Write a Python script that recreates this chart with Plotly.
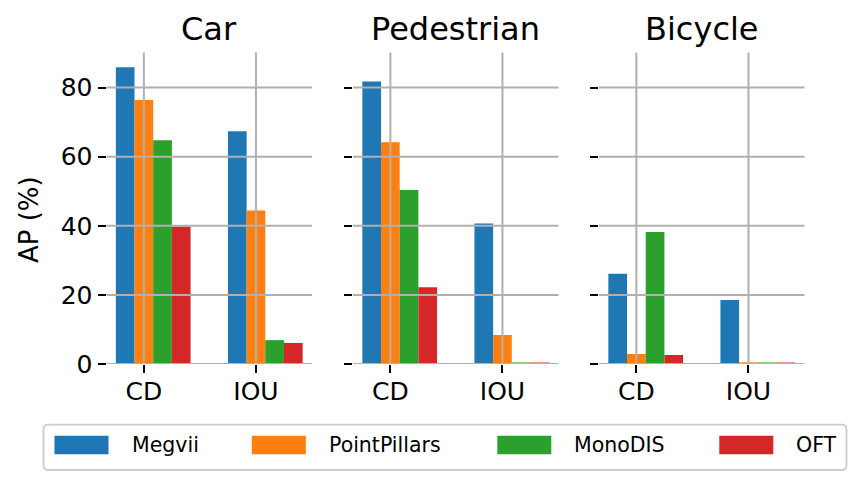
import plotly.graph_objects as go

# ---------------- data ----------------
panels = ["Car", "Pedestrian", "Bicycle"]
metrics = ["CD", "IOU"]
series = ["Megvii", "PointPillars", "MonoDIS", "OFT"]

# values per series: [CD, IOU]
car_megvii = [85.9, 67.4]
car_pointpillars = [76.4, 44.4]
car_monodis = [64.8, 6.9]
car_oft = [39.8, 6.1]

ped_megvii = [81.8, 40.7]
ped_pointpillars = [64.2, 8.4]
ped_monodis = [50.4, 0.3]
ped_oft = [22.2, 0.3]

bic_megvii = [26.1, 18.5]
bic_pointpillars = [2.9, 0.3]
bic_monodis = [38.2, 0.3]
bic_oft = [2.6, 0.3]

y_ticks = [0, 20, 40, 60, 80]
y_label = "AP (%)"

panel_data = {
    "Car": [car_megvii, car_pointpillars, car_monodis, car_oft],
    "Pedestrian": [ped_megvii, ped_pointpillars, ped_monodis, ped_oft],
    "Bicycle": [bic_megvii, bic_pointpillars, bic_monodis, bic_oft],
}

# ---------------- style ----------------
W, H = 863, 485
colors = ["#1f77b4", "#ff7f0e", "#2ca02c", "#d62728"]
FONT = "DejaVu Sans"
GRID = "#b0b0b0"
bar_w = 1 / 6


def px(x):
    return x / W


def py(y):
    return 1 - y / H


x_domains_px = [(106.5, 312.0), (353.0, 558.5), (599.0, 804.5)]
y_domain_px = (364.0, 52.4)

all_vals = [v for p in panels for s in panel_data[p] for v in s]
y_max = max(all_vals) * 1.05
x_range = [-0.25 - (1.4167 + 0.25) * 0.05, 1.4167 + (1.4167 + 0.25) * 0.05]

fig = go.Figure()
shapes = []
annotations = []

for pi, panel in enumerate(panels):
    xa = "x" if pi == 0 else f"x{pi + 1}"
    ya = "y" if pi == 0 else f"y{pi + 1}"
    for si, name in enumerate(series):
        fig.add_trace(go.Bar(
            x=metrics, y=panel_data[panel][si], name=name,
            width=bar_w, offset=-0.25 + si * bar_w,
            marker=dict(color=colors[si], line=dict(width=0)),
            xaxis=xa, yaxis=ya, showlegend=False,
        ))
    axkey = "xaxis" if pi == 0 else f"xaxis{pi + 1}"
    aykey = "yaxis" if pi == 0 else f"yaxis{pi + 1}"
    d0, d1 = x_domains_px[pi]
    fig.update_layout(**{
        axkey: dict(
            domain=[px(d0), px(d1)], anchor=ya, type="category",
            range=x_range, showgrid=False, zeroline=False, showline=False,
            ticks="outside", ticklen=8, tickwidth=2, tickcolor="black",
            tickfont=dict(family=FONT, size=25, color="black"),
            ticklabelstandoff=-3, automargin=False,
        ),
        aykey: dict(
            domain=[py(y_domain_px[0]), py(y_domain_px[1])], anchor=xa,
            range=[0, y_max], tickvals=y_ticks, showgrid=False,
            zeroline=False, showline=False, showticklabels=(pi == 0),
            ticks="outside", ticklen=8, tickwidth=2, tickcolor="black",
            tickfont=dict(family=FONT, size=25, color="black"),
            automargin=False,
        ),
    })
    # grid lines above bars
    for t in y_ticks:
        shapes.append(dict(type="line", xref=f"{xa} domain", yref=ya,
                           x0=0, x1=1, y0=t, y1=t, layer="above",
                           line=dict(color=GRID, width=2)))
    for m in metrics:
        shapes.append(dict(type="line", xref=xa, yref=f"{ya} domain",
                           x0=m, x1=m, y0=0, y1=1, layer="above",
                           line=dict(color=GRID, width=2)))
    annotations.append(dict(
        text=panel, x=px((d0 + d1) / 2), y=py(29), xref="paper", yref="paper",
        xanchor="center", yanchor="middle", showarrow=False,
        font=dict(family=FONT, size=32, color="black")))

# y-axis label
annotations.append(dict(
    text=y_label, x=px(29), y=py(220), xref="paper", yref="paper",
    xanchor="center", yanchor="middle", textangle=-90, showarrow=False,
    font=dict(family=FONT, size=26, color="black")))

# legend (matplotlib-style box)
lx0, lx1, ly0, ly1, r = 43.5, 846.5, 424.7, 470.0, 5
path = (f"M {px(lx0 + r)},{py(ly0)} L {px(lx1 - r)},{py(ly0)} "
        f"Q {px(lx1)},{py(ly0)} {px(lx1)},{py(ly0 + r)} "
        f"L {px(lx1)},{py(ly1 - r)} Q {px(lx1)},{py(ly1)} {px(lx1 - r)},{py(ly1)} "
        f"L {px(lx0 + r)},{py(ly1)} Q {px(lx0)},{py(ly1)} {px(lx0)},{py(ly1 - r)} "
        f"L {px(lx0)},{py(ly0 + r)} Q {px(lx0)},{py(ly0)} {px(lx0 + r)},{py(ly0)} Z")
shapes.append(dict(type="path", path=path, xref="paper", yref="paper",
                   line=dict(color="#cccccc", width=1.8), fillcolor="white",
                   layer="above"))
legend_patch_x = [54.5, 251.8, 497.3, 719.3]
for si, name in enumerate(series):
    x0 = legend_patch_x[si]
    shapes.append(dict(type="rect", xref="paper", yref="paper",
                       x0=px(x0), x1=px(x0 + 54), y0=py(454.3), y1=py(435.7),
                       fillcolor=colors[si], line=dict(width=0), layer="above"))
    annotations.append(dict(
        text=name, x=px(x0 + 75), y=py(445), xref="paper", yref="paper",
        xanchor="left", yanchor="middle", showarrow=False,
        font=dict(family=FONT, size=20.5, color="black")))

fig.update_layout(
    width=W, height=H, autosize=False, margin=dict(l=0, r=0, t=0, b=0, pad=0),
    paper_bgcolor="white", plot_bgcolor="white",
    barmode="overlay", showlegend=False,
    shapes=shapes, annotations=annotations,
    font=dict(family=FONT, color="black"),
)

fig.write_html("out.html", config={"responsive": False})
